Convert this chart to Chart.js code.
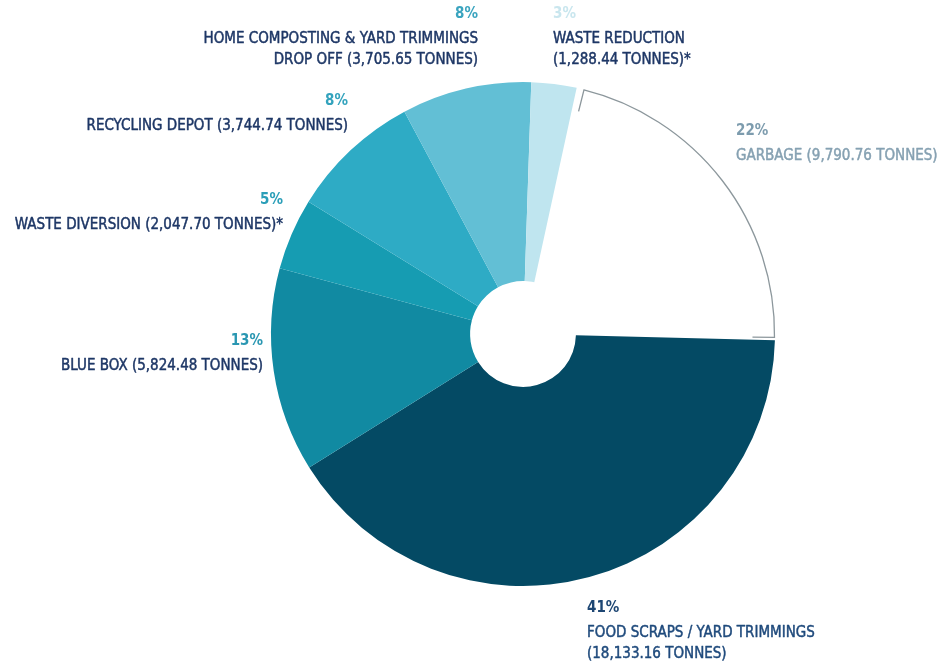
<!DOCTYPE html>
<html>
<head>
<meta charset="utf-8">
<script src="https://cdn.jsdelivr.net/npm/chart.js@4/dist/chart.umd.min.js"></script>
<style>
html,body{margin:0;padding:0;background:#fff;}
#wrap{width:944px;height:662px;position:relative;}
</style>
</head>
<body>
<div id="wrap"><canvas id="c" width="944" height="662"></canvas></div>
<script>
// ---- data ----
const categories = ["GARBAGE", "FOOD SCRAPS / YARD TRIMMINGS", "BLUE BOX", "WASTE DIVERSION", "RECYCLING DEPOT", "HOME COMPOSTING & YARD TRIMMINGS DROP OFF", "WASTE REDUCTION"];
const tonnes = [9790.76, 18133.16, 5824.48, 2047.70, 3744.74, 3705.65, 1288.44];
const percentLabels = ["22%", "41%", "13%", "5%", "8%", "8%", "3%"];
const labelLines = [
  ["GARBAGE (9,790.76 TONNES)"],
  ["FOOD SCRAPS / YARD TRIMMINGS", "(18,133.16 TONNES)"],
  ["BLUE BOX (5,824.48 TONNES)"],
  ["WASTE DIVERSION (2,047.70 TONNES)*"],
  ["RECYCLING DEPOT (3,744.74 TONNES)"],
  ["HOME COMPOSTING & YARD TRIMMINGS", "DROP OFF (3,705.65 TONNES)"],
  ["WASTE REDUCTION", "(1,288.44 TONNES)*"]
];

// ---- styles ----
const sliceColors = ["#ffffff", "#044a64", "#118aa2", "#169cb2", "#2eabc5", "#62bfd5", "#bfe5ef"];
const pctColors = ["#7d9cae", "#1d4673", "#2a97b2", "#2a9eb8", "#33a3bd", "#3aa4bf", "#c9e6ee"];
const textColors = ["#86a1b2", "#1f4a7c", "#1e3766", "#1e3766", "#1e3766", "#1e3766", "#1e3766"];
// label anchor: [x, y of percent line, align]
const labelLayout = [
  [736, 131, "left"],
  [587, 608, "left"],
  [263, 341, "right"],
  [283, 200, "right"],
  [348, 101, "right"],
  [478, 14, "right"],
  [553, 14, "left"]
];
const FONT = '"Liberation Sans Narrow", "DejaVu Sans Condensed", "Roboto Condensed", sans-serif';

const labelPlugin = {
  id: 'labelPlugin',
  afterDatasetsDraw(chart) {
    const ctx = chart.ctx;
    const meta = chart.getDatasetMeta(0);
    // garbage outline along outer arc
    const a = meta.data[0];
    const p = a.getProps(['x','y','startAngle','endAngle','outerRadius'], true);
    const r = p.outerRadius - 0.5;
    const s = p.startAngle + 0.03, e = p.endAngle - 0.012;
    ctx.save();
    ctx.strokeStyle = '#8c979c';
    ctx.lineWidth = 1.3;
    ctx.beginPath();
    ctx.moveTo(p.x + (r - 22) * Math.cos(s), p.y + (r - 22) * Math.sin(s));
    ctx.lineTo(p.x + r * Math.cos(s), p.y + r * Math.sin(s));
    ctx.arc(p.x, p.y, r, s, e, false);
    ctx.lineTo(p.x + (r - 22) * Math.cos(e), p.y + (r - 22) * Math.sin(e));
    ctx.stroke();
    ctx.restore();

    // labels
    ctx.save();
    ctx.textBaseline = 'middle';
    ctx.lineJoin = 'round';
    for (let i = 0; i < categories.length; i++) {
      const [x, y, align] = labelLayout[i];
      ctx.textAlign = align;
      ctx.fillStyle = pctColors[i];
      ctx.font = 'bold 15px ' + FONT;
      ctx.fillText(percentLabels[i], x, y);
      ctx.fillStyle = textColors[i];
      ctx.strokeStyle = textColors[i];
      ctx.lineWidth = 0.45;
      ctx.font = '15px ' + FONT;
      labelLines[i].forEach((ln, j) => {
        ctx.fillText(ln, x, y + 25 + j * 21);
        ctx.strokeText(ln, x, y + 25 + j * 21);
      });
    }
    ctx.restore();
  }
};

new Chart(document.getElementById('c'), {
  type: 'doughnut',
  data: {
    labels: categories,
    datasets: [{
      data: tonnes,
      backgroundColor: sliceColors,
      borderWidth: 0,
      hoverOffset: 0
    }]
  },
  options: {
    responsive: false,
    animation: false,
    rotation: 12.3,
    cutout: '21%',
    layout: { padding: { left: 271, right: 169, top: 82, bottom: 76 } },
    plugins: { legend: { display: false }, tooltip: { enabled: false } }
  },
  plugins: [labelPlugin]
});
</script>
</body>
</html>
